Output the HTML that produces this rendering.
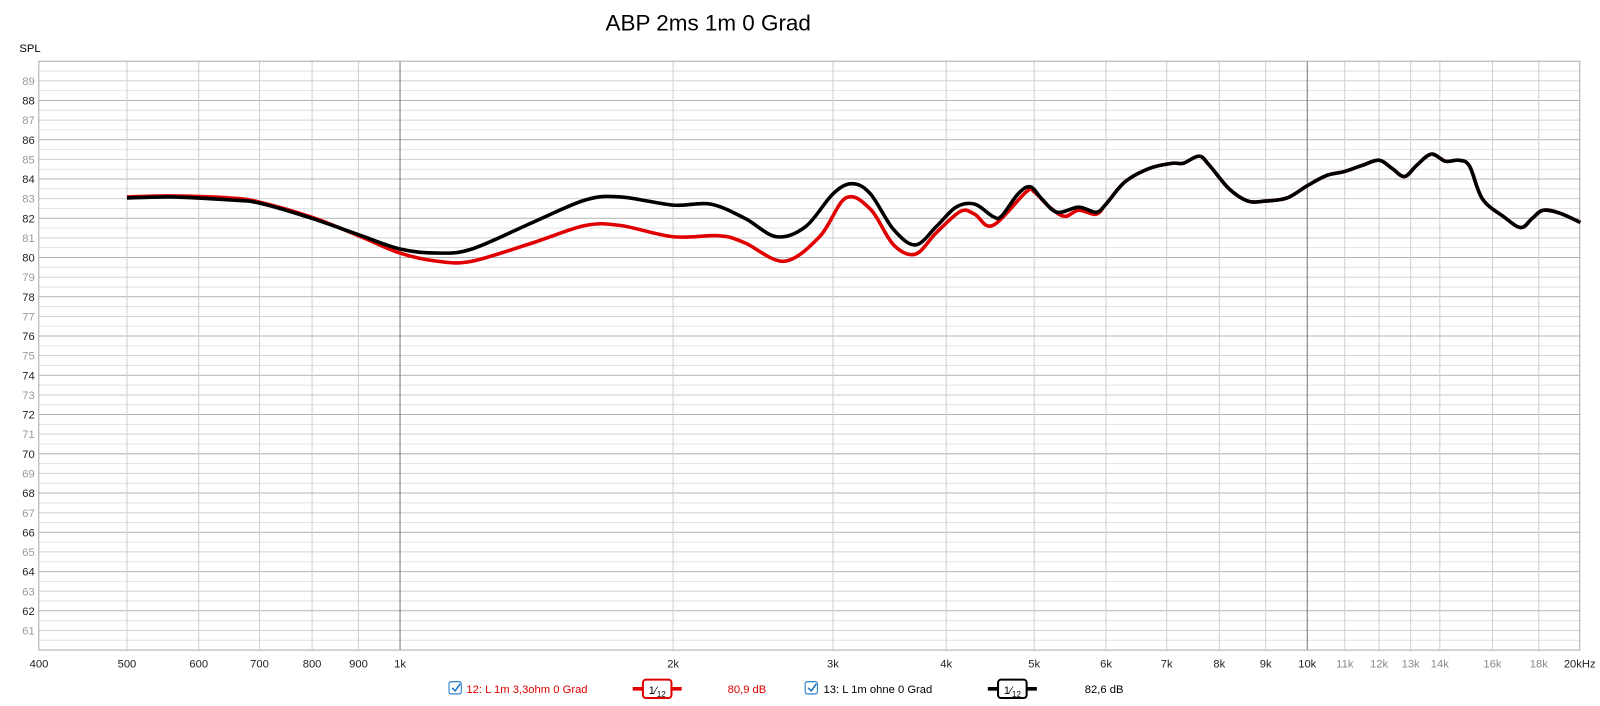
<!DOCTYPE html>
<html><head><meta charset="utf-8"><style>
body{margin:0;background:#fff;width:1600px;height:701px;overflow:hidden;font-family:"Liberation Sans",sans-serif}
</style></head><body>
<svg width="1600" height="701" xmlns="http://www.w3.org/2000/svg" font-family="Liberation Sans, sans-serif"><g id="s" transform="scale(1.0205)"></g></svg>
<script>
const s=document.getElementById('s');
const L=38,R=1548,T=60,B=637;
const fx=f=>392+889*Math.log10(f/1000);
const dy=d=>T+(90-d)*(B-T)/30;
let h='';
h+='<text x="694" y="30" font-size="22" text-anchor="middle" fill="#000">ABP 2ms 1m 0 Grad</text>';
h+='<text x="19" y="51" font-size="11" fill="#000">SPL</text>';
for(let d=60.5;d<90;d+=0.5){const y=dy(d).toFixed(1);const isInt=Math.abs(d-Math.round(d))<0.01;
const c=isInt?(Math.round(d)%2==0?'#b4b4b4':'#cfcfcf'):'#e2e2e2';
h+=`<line x1="${L}" x2="${R}" y1="${y}" y2="${y}" stroke="${c}" stroke-width="1"/>`;
if(isInt&&d>60&&d<90){h+=`<text x="34" y="${(+y+4).toFixed(1)}" font-size="11" text-anchor="end" fill="${Math.round(d)%2==0?'#222':'#999'}">${Math.round(d)}</text>`;}}
const fs=[500,600,700,800,900,1000,2000,3000,4000,5000,6000,7000,8000,9000,10000,11000,12000,13000,14000,16000,18000];
fs.forEach(f=>{const x=fx(f).toFixed(1);const dark=(f==1000||f==10000);
h+=`<line x1="${x}" x2="${x}" y1="${T}" y2="${B}" stroke="${dark?'#777':'#d0d0d0'}" stroke-width="1"/>`;});
const lab=[[400,'400'],[500,'500'],[600,'600'],[700,'700'],[800,'800'],[900,'900'],[1000,'1k'],[2000,'2k'],[3000,'3k'],[4000,'4k'],[5000,'5k'],[6000,'6k'],[7000,'7k'],[8000,'8k'],[9000,'9k'],[10000,'10k'],[11000,'11k'],[12000,'12k'],[13000,'13k'],[14000,'14k'],[16000,'16k'],[18000,'18k']];
lab.forEach(([f,t])=>{const g=f>10000;h+=`<text x="${fx(f).toFixed(1)}" y="654" font-size="11" text-anchor="middle" fill="${g?'#888':'#222'}">${t}</text>`;});
h+=`<text x="1548" y="654" font-size="11" text-anchor="middle" fill="#222">20kHz</text>`;
h+=`<rect x="${L}" y="${T}" width="${R-L}" height="${B-T}" fill="none" stroke="#aaa"/>`;
const blk=[[500,194],[560,193],[650,196],[700,199],[800,214],[900,230],[1000,244],[1100,248],[1200,244],[1400,218],[1600,196],[1750,193],[2000,201],[2200,200],[2400,214],[2600,232],[2800,222],[3000,190],[3150,180],[3300,190],[3500,225],[3700,240],[3900,222],[4100,203],[4300,200],[4500,212],[4600,212],[4800,190],[4950,183],[5100,195],[5300,208],[5600,203],[5850,208],[6000,200],[6300,178],[6700,165],[7100,160],[7300,160],[7600,153],[7800,162],[8200,185],[8600,197],[9000,197],[9500,194],[10000,182],[10500,172],[11000,168],[11500,162],[12000,157],[12400,165],[12800,173],[13200,162],[13700,151],[14200,158],[14700,157],[15100,163],[15600,195],[16500,213],[17200,223],[17700,214],[18200,206],[19000,209],[20000,218]];
const red=[[500,193],[560,192],[650,194],[700,198],[800,213],[900,231],[1000,248],[1100,256],[1200,256],[1400,238],[1600,221],[1750,221],[2000,232],[2250,231],[2400,238],[2650,256],[2900,232],[3100,194],[3300,205],[3500,240],[3700,249],[3900,228],[4150,207],[4300,210],[4500,221],[4900,188],[5000,188],[5200,203],[5400,212],[5600,206],[5850,210]].concat(blk.filter(p=>p[0]>=6000));
function path(pts){const p=pts.map(([f,y])=>[fx(f),y]);let d=`M${p[0][0].toFixed(1)},${p[0][1]}`;
for(let i=0;i<p.length-1;i++){const p0=p[i-1]||p[i],p1=p[i],p2=p[i+1],p3=p[i+2]||p2;
const c1=[p1[0]+(p2[0]-p0[0])/6,p1[1]+(p2[1]-p0[1])/6],c2=[p2[0]-(p3[0]-p1[0])/6,p2[1]-(p3[1]-p1[1])/6];
d+=` C${c1[0].toFixed(1)},${c1[1].toFixed(1)} ${c2[0].toFixed(1)},${c2[1].toFixed(1)} ${p2[0].toFixed(1)},${p2[1]}`;}return d;}
h+=`<path d="${path(red)}" fill="none" stroke="#e00000" stroke-width="3.5" stroke-linejoin="round"/>`;
h+=`<path d="${path(blk)}" fill="none" stroke="#000" stroke-width="3.5" stroke-linejoin="round"/>`;
function cb(x){return `<rect x="${x}" y="668" width="12" height="12" rx="2" fill="#fff" stroke="#1a73c8"/><path d="M${x+3},674 l3,3 l5,-7" fill="none" stroke="#1a73c8" stroke-width="1.5"/>`;}
function sym(x,c){return `<line x1="${x}" x2="${x+48}" y1="675" y2="675" stroke="${c}" stroke-width="3.5"/><rect x="${x+10}" y="666" width="28" height="18" rx="3" fill="#fff" stroke="${c}" stroke-width="2"/><text x="${x+24}" y="680" font-size="11" text-anchor="middle" fill="#000">1⁄<tspan font-size="8" dy="3">12</tspan></text>`;}
h+=cb(440)+`<text x="457" y="679" font-size="11" fill="#e00000">12: L 1m 3,3ohm 0 Grad</text>`+sym(620,'#e00000')+`<text x="713" y="679" font-size="11" fill="#e00000">80,9 dB</text>`;
h+=cb(789)+`<text x="807" y="679" font-size="11" fill="#000">13: L 1m ohne 0 Grad</text>`+sym(968,'#000')+`<text x="1063" y="679" font-size="11" fill="#000">82,6 dB</text>`;
s.innerHTML=h;
</script>
</body></html>
